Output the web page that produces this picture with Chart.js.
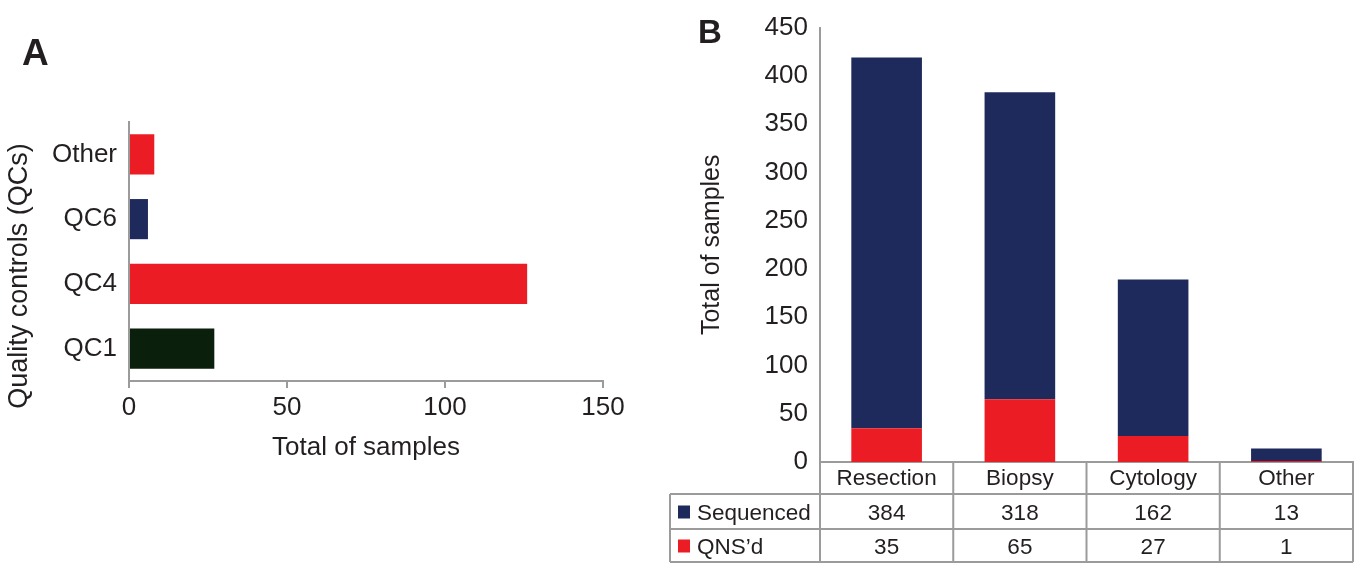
<!DOCTYPE html>
<html>
<head>
<meta charset="utf-8">
<script src="https://cdn.jsdelivr.net/npm/chart.js@4.4.1/dist/chart.umd.min.js"></script>
<style>
  html, body { margin: 0; padding: 0; background: #ffffff; }
  #wrap { position: relative; width: 1357px; height: 563px; overflow: hidden; background: #ffffff; }
  canvas { position: absolute; top: 0; }
  #qcChart { left: 0; }
  #specimenChart { left: 660px; }
</style>
</head>
<body>
<div id="wrap">
  <canvas id="qcChart" width="660" height="563"></canvas>
  <canvas id="specimenChart" width="697" height="563"></canvas>
</div>
<script>
// ---- Panel A: samples flagged by each quality control ----
const qcCategories = ['QC1', 'QC4', 'QC6', 'Other'];
const qcCounts = [27, 126, 6, 8];
const qcTicks = [0, 50, 100, 150];

// ---- Panel B: samples per specimen type ----
const specimenTypes = ['Resection', 'Biopsy', 'Cytology', 'Other'];
const sequencedCounts = [384, 318, 162, 13];
const qnsCounts = [35, 65, 27, 1];
const specimenTicks = [0, 50, 100, 150, 200, 250, 300, 350, 400, 450];

const NAVY = '#1f2a5c';
const RED = '#ec1c24';
const DARK_GREEN = '#0b1f0d';
const AXIS_GREY = '#9b9b9b';
const TEXT = '#231f20';
const qcColors = [DARK_GREEN, RED, NAVY, RED];

Chart.defaults.font.family = '"Liberation Sans", Arial, Helvetica, sans-serif';
Chart.defaults.color = TEXT;

// Panel letters and the rotated title of panel A
const panelText = {
  id: 'panelText',
  afterDraw(chart, args, opts) {
    const ctx = chart.ctx;
    ctx.save();
    ctx.fillStyle = TEXT;
    ctx.font = 'bold ' + opts.letterSize + 'px "Liberation Sans", Arial, sans-serif';
    ctx.textBaseline = 'alphabetic';
    ctx.textAlign = 'left';
    ctx.fillText(opts.letter, opts.letterX, opts.letterY);
    if (opts.sideTitle) {
      ctx.translate(opts.sideX, opts.sideY);
      ctx.rotate(-Math.PI / 2);
      ctx.font = opts.sideSize + 'px "Liberation Sans", Arial, sans-serif';
      ctx.textAlign = 'center';
      ctx.textBaseline = 'middle';
      ctx.fillText(opts.sideTitle, 0, 0);
    }
    ctx.restore();
  }
};

new Chart(document.getElementById('qcChart'), {
  type: 'bar',
  data: {
    labels: qcCategories,
    datasets: [{
      label: 'Total of samples',
      data: qcCounts,
      backgroundColor: qcColors,
      borderWidth: 0,
      barPercentage: 0.62,
      categoryPercentage: 1
    }]
  },
  options: {
    indexAxis: 'y',
    responsive: false,
    animation: false,
    devicePixelRatio: 1,
    layout: { padding: { top: 122, right: 57, left: 0, bottom: 0 } },
    plugins: {
      legend: { display: false },
      tooltip: { enabled: false },
      panelText: {
        letter: 'A', letterSize: 37, letterX: 22, letterY: 65,
        sideTitle: 'Quality controls (QCs)', sideSize: 27, sideX: 20, sideY: 276
      }
    },
    scales: {
      x: {
        type: 'linear',
        min: qcTicks[0],
        max: qcTicks[qcTicks.length - 1],
        ticks: { stepSize: qcTicks[1] - qcTicks[0], font: { size: 26 }, padding: 4 },
        grid: { drawOnChartArea: false, drawTicks: true, tickLength: 7, color: AXIS_GREY, lineWidth: 2 },
        border: { color: AXIS_GREY, width: 2 },
        title: { display: true, text: 'Total of samples', font: { size: 26 }, padding: { top: 0, bottom: 100 } },
        afterFit(scale) { scale.height = 182; }
      },
      y: {
        reverse: true,
        grid: { display: false, drawTicks: false },
        border: { color: AXIS_GREY, width: 2 },
        ticks: { font: { size: 26 }, padding: 12 },
        afterFit(scale) { scale.width = 129; }
      }
    }
  },
  plugins: [panelText]
});

// Data table under the stacked columns: header row holds the category ticks,
// followed by one row per series with its colour key
const dataTable = {
  id: 'dataTable',
  afterDraw(chart) {
    const { ctx, chartArea, scales } = chart;
    const xs = scales.x;
    const n = chart.data.labels.length;
    const colW = (chartArea.right - chartArea.left) / n;
    const top = chartArea.bottom;
    const rowEdges = [top, top + 32, top + 67, top + 100];
    const tableLeft = 10;
    const rows = [chart.data.datasets[1], chart.data.datasets[0]];

    ctx.save();
    ctx.strokeStyle = AXIS_GREY;
    ctx.lineWidth = 2;
    ctx.beginPath();
    for (let r = 1; r < rowEdges.length; r++) {
      ctx.moveTo(tableLeft, rowEdges[r]);
      ctx.lineTo(chartArea.right, rowEdges[r]);
    }
    ctx.moveTo(tableLeft, rowEdges[1]);
    ctx.lineTo(tableLeft, rowEdges[3]);
    for (let k = 0; k <= n; k++) {
      const x = chartArea.left + k * colW;
      ctx.moveTo(x, top);
      ctx.lineTo(x, rowEdges[3]);
    }
    ctx.stroke();

    ctx.font = '22.5px "Liberation Sans", Arial, sans-serif';
    ctx.fillStyle = TEXT;
    ctx.textBaseline = 'middle';
    rows.forEach((ds, r) => {
      const mid = (rowEdges[r + 1] + rowEdges[r + 2]) / 2 + 2;
      ctx.fillStyle = ds.backgroundColor;
      ctx.fillRect(tableLeft + 8, mid - 8, 12, 13);
      ctx.fillStyle = TEXT;
      ctx.textAlign = 'left';
      ctx.fillText(ds.label, tableLeft + 27, mid);
      ctx.textAlign = 'center';
      ds.data.forEach((v, i) => {
        ctx.fillText(String(v), xs.getPixelForValue(i), mid);
      });
    });
    ctx.restore();
  }
};

new Chart(document.getElementById('specimenChart'), {
  type: 'bar',
  data: {
    labels: specimenTypes,
    datasets: [
      { label: 'QNS\u2019d', data: qnsCounts, backgroundColor: RED, borderWidth: 0, barPercentage: 0.53, categoryPercentage: 1 },
      { label: 'Sequenced', data: sequencedCounts, backgroundColor: NAVY, borderWidth: 0, barPercentage: 0.53, categoryPercentage: 1 }
    ]
  },
  options: {
    responsive: false,
    animation: false,
    devicePixelRatio: 1,
    layout: { padding: { top: 23, right: 4, left: 0, bottom: 0 } },
    plugins: {
      legend: { display: false },
      tooltip: { enabled: false },
      panelText: { letter: 'B', letterSize: 33, letterX: 38, letterY: 43 }
    },
    scales: {
      x: {
        stacked: true,
        grid: { display: false, drawTicks: false },
        border: { color: AXIS_GREY, width: 2 },
        ticks: { font: { size: 22.5 }, padding: 3 },
        afterFit(scale) { scale.height = 101; }
      },
      y: {
        stacked: true,
        min: specimenTicks[0],
        max: specimenTicks[specimenTicks.length - 1],
        ticks: { stepSize: specimenTicks[1] - specimenTicks[0], font: { size: 26 }, padding: 12 },
        grid: { display: false, drawTicks: false },
        border: { color: AXIS_GREY, width: 2 },
        title: { display: true, text: 'Total of samples', font: { size: 25 }, padding: { top: 37, bottom: 0 } },
        afterFit(scale) { scale.width = 160; }
      }
    }
  },
  plugins: [panelText, dataTable]
});
</script>
</body>
</html>
